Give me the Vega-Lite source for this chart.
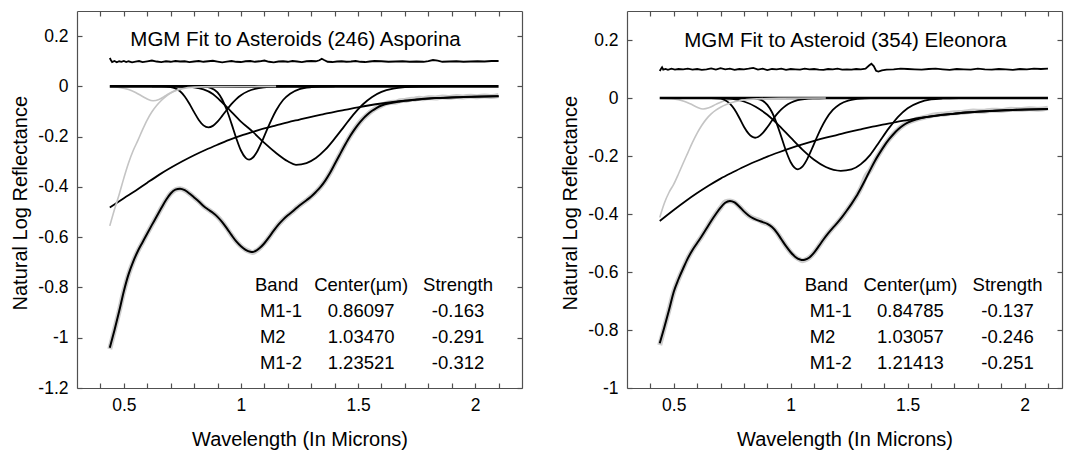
{
  "$schema": "https://vega.github.io/schema/vega-lite/v6.json",
  "padding": {"left": 10, "top": 10, "right": 5, "bottom": 5},
  "spacing": 37,
  "config": {
    "font": "Liberation Sans",
    "view": {"stroke": null},
    "axis": {"grid": false, "domainColor": "#505050", "domainWidth": 1.2, "tickColor": "#505050", "tickWidth": 1.2, "tickSize": -5, "labelFont": "Liberation Sans", "labelFontSize": 17.5, "labelColor": "#000000", "titleFont": "Liberation Sans", "titleFontSize": 20, "titleFontWeight": "normal", "titleColor": "#000000", "labelFlush": false, "labelOverlap": false},
    "text": {"font": "Liberation Sans", "color": "#000000"}
  },
  "datasets": {
    "L": [
      {"s":"fit","w":0.44,"r":-1.040},{"s":"fit","w":0.46,"r":-0.970},{"s":"fit","w":0.48,"r":-0.895},{"s":"fit","w":0.50,"r":-0.815},{"s":"fit","w":0.52,"r":-0.748},{"s":"fit","w":0.54,"r":-0.697},{"s":"fit","w":0.56,"r":-0.655},{"s":"fit","w":0.58,"r":-0.620},{"s":"fit","w":0.60,"r":-0.585},{"s":"fit","w":0.62,"r":-0.551},{"s":"fit","w":0.64,"r":-0.518},{"s":"fit","w":0.66,"r":-0.484},{"s":"fit","w":0.68,"r":-0.452},{"s":"fit","w":0.70,"r":-0.426},{"s":"fit","w":0.72,"r":-0.411},{"s":"fit","w":0.74,"r":-0.407},{"s":"fit","w":0.76,"r":-0.413},{"s":"fit","w":0.78,"r":-0.426},{"s":"fit","w":0.80,"r":-0.442},{"s":"fit","w":0.82,"r":-0.458},{"s":"fit","w":0.84,"r":-0.476},{"s":"fit","w":0.86,"r":-0.490},{"s":"fit","w":0.88,"r":-0.503},{"s":"fit","w":0.90,"r":-0.519},{"s":"fit","w":0.92,"r":-0.540},{"s":"fit","w":0.94,"r":-0.565},{"s":"fit","w":0.96,"r":-0.592},{"s":"fit","w":0.98,"r":-0.617},{"s":"fit","w":1.00,"r":-0.636},{"s":"fit","w":1.02,"r":-0.650},{"s":"fit","w":1.04,"r":-0.658},{"s":"fit","w":1.05,"r":-0.659},{"s":"fit","w":1.06,"r":-0.656},{"s":"fit","w":1.08,"r":-0.643},{"s":"fit","w":1.10,"r":-0.624},{"s":"fit","w":1.12,"r":-0.600},{"s":"fit","w":1.14,"r":-0.574},{"s":"fit","w":1.16,"r":-0.550},{"s":"fit","w":1.18,"r":-0.530},{"s":"fit","w":1.20,"r":-0.513},{"s":"fit","w":1.22,"r":-0.498},{"s":"fit","w":1.24,"r":-0.482},{"s":"fit","w":1.26,"r":-0.467},{"s":"fit","w":1.28,"r":-0.453},{"s":"fit","w":1.30,"r":-0.438},{"s":"fit","w":1.32,"r":-0.420},{"s":"fit","w":1.34,"r":-0.400},{"s":"fit","w":1.36,"r":-0.375},{"s":"fit","w":1.38,"r":-0.345},{"s":"fit","w":1.40,"r":-0.310},{"s":"fit","w":1.42,"r":-0.275},{"s":"fit","w":1.44,"r":-0.240},{"s":"fit","w":1.46,"r":-0.207},{"s":"fit","w":1.48,"r":-0.178},{"s":"fit","w":1.50,"r":-0.152},{"s":"fit","w":1.52,"r":-0.130},{"s":"fit","w":1.54,"r":-0.112},{"s":"fit","w":1.56,"r":-0.097},{"s":"fit","w":1.58,"r":-0.085},{"s":"fit","w":1.60,"r":-0.076},{"s":"fit","w":1.64,"r":-0.066},{"s":"fit","w":1.68,"r":-0.060},{"s":"fit","w":1.72,"r":-0.055},{"s":"fit","w":1.76,"r":-0.051},{"s":"fit","w":1.80,"r":-0.048},{"s":"fit","w":1.85,"r":-0.046},{"s":"fit","w":1.90,"r":-0.044},{"s":"fit","w":1.95,"r":-0.042},{"s":"fit","w":2.00,"r":-0.041},{"s":"fit","w":2.05,"r":-0.040},{"s":"fit","w":2.10,"r":-0.039},

      {"s":"data","w":0.44,"r":-1.045},{"s":"data","w":0.46,"r":-0.970},{"s":"data","w":0.48,"r":-0.895},{"s":"data","w":0.50,"r":-0.815},{"s":"data","w":0.52,"r":-0.748},{"s":"data","w":0.54,"r":-0.697},{"s":"data","w":0.56,"r":-0.655},{"s":"data","w":0.58,"r":-0.620},{"s":"data","w":0.60,"r":-0.585},{"s":"data","w":0.62,"r":-0.551},{"s":"data","w":0.64,"r":-0.518},{"s":"data","w":0.66,"r":-0.484},{"s":"data","w":0.68,"r":-0.452},{"s":"data","w":0.70,"r":-0.426},{"s":"data","w":0.72,"r":-0.411},{"s":"data","w":0.74,"r":-0.407},{"s":"data","w":0.76,"r":-0.413},{"s":"data","w":0.78,"r":-0.426},{"s":"data","w":0.80,"r":-0.442},{"s":"data","w":0.82,"r":-0.458},{"s":"data","w":0.84,"r":-0.476},{"s":"data","w":0.86,"r":-0.490},{"s":"data","w":0.88,"r":-0.503},{"s":"data","w":0.90,"r":-0.519},{"s":"data","w":0.92,"r":-0.540},{"s":"data","w":0.94,"r":-0.565},{"s":"data","w":0.96,"r":-0.592},{"s":"data","w":0.98,"r":-0.617},{"s":"data","w":1.00,"r":-0.636},{"s":"data","w":1.02,"r":-0.650},{"s":"data","w":1.04,"r":-0.658},{"s":"data","w":1.05,"r":-0.661},{"s":"data","w":1.06,"r":-0.657},{"s":"data","w":1.08,"r":-0.643},{"s":"data","w":1.10,"r":-0.624},{"s":"data","w":1.12,"r":-0.600},{"s":"data","w":1.14,"r":-0.574},{"s":"data","w":1.16,"r":-0.550},{"s":"data","w":1.18,"r":-0.530},{"s":"data","w":1.20,"r":-0.513},{"s":"data","w":1.22,"r":-0.498},{"s":"data","w":1.24,"r":-0.482},{"s":"data","w":1.26,"r":-0.467},{"s":"data","w":1.28,"r":-0.453},{"s":"data","w":1.30,"r":-0.438},{"s":"data","w":1.32,"r":-0.420},{"s":"data","w":1.34,"r":-0.400},{"s":"data","w":1.36,"r":-0.375},{"s":"data","w":1.38,"r":-0.345},{"s":"data","w":1.40,"r":-0.310},{"s":"data","w":1.42,"r":-0.275},{"s":"data","w":1.44,"r":-0.240},{"s":"data","w":1.46,"r":-0.207},{"s":"data","w":1.48,"r":-0.178},{"s":"data","w":1.50,"r":-0.152},{"s":"data","w":1.52,"r":-0.130},{"s":"data","w":1.54,"r":-0.112},{"s":"data","w":1.56,"r":-0.097},{"s":"data","w":1.58,"r":-0.085},{"s":"data","w":1.60,"r":-0.076},{"s":"data","w":1.62,"r":-0.068},{"s":"data","w":1.64,"r":-0.064},{"s":"data","w":1.66,"r":-0.063},{"s":"data","w":1.68,"r":-0.057},{"s":"data","w":1.70,"r":-0.056},{"s":"data","w":1.72,"r":-0.052},{"s":"data","w":1.74,"r":-0.051},{"s":"data","w":1.76,"r":-0.047},{"s":"data","w":1.78,"r":-0.049},{"s":"data","w":1.80,"r":-0.045},{"s":"data","w":1.83,"r":-0.046},{"s":"data","w":1.86,"r":-0.042},{"s":"data","w":1.89,"r":-0.044},{"s":"data","w":1.92,"r":-0.040},{"s":"data","w":1.95,"r":-0.042},{"s":"data","w":1.98,"r":-0.039},{"s":"data","w":2.01,"r":-0.041},{"s":"data","w":2.04,"r":-0.038},{"s":"data","w":2.07,"r":-0.040},{"s":"data","w":2.10,"r":-0.036},

      {"s":"cont","w":0.44,"r":-0.482},{"s":"cont","w":0.50,"r":-0.445},{"s":"cont","w":0.55,"r":-0.415},{"s":"cont","w":0.60,"r":-0.383},{"s":"cont","w":0.65,"r":-0.352},{"s":"cont","w":0.70,"r":-0.324},{"s":"cont","w":0.75,"r":-0.298},{"s":"cont","w":0.80,"r":-0.274},{"s":"cont","w":0.85,"r":-0.252},{"s":"cont","w":0.90,"r":-0.232},{"s":"cont","w":0.95,"r":-0.213},{"s":"cont","w":1.00,"r":-0.196},{"s":"cont","w":1.05,"r":-0.181},{"s":"cont","w":1.10,"r":-0.167},{"s":"cont","w":1.15,"r":-0.155},{"s":"cont","w":1.20,"r":-0.143},{"s":"cont","w":1.25,"r":-0.132},{"s":"cont","w":1.30,"r":-0.121},{"s":"cont","w":1.35,"r":-0.111},{"s":"cont","w":1.40,"r":-0.101},{"s":"cont","w":1.45,"r":-0.092},{"s":"cont","w":1.50,"r":-0.083},{"s":"cont","w":1.55,"r":-0.075},{"s":"cont","w":1.60,"r":-0.068},{"s":"cont","w":1.65,"r":-0.062},{"s":"cont","w":1.70,"r":-0.057},{"s":"cont","w":1.75,"r":-0.053},{"s":"cont","w":1.80,"r":-0.049},{"s":"cont","w":1.85,"r":-0.046},{"s":"cont","w":1.90,"r":-0.044},{"s":"cont","w":1.95,"r":-0.042},{"s":"cont","w":2.00,"r":-0.041},{"s":"cont","w":2.05,"r":-0.040},{"s":"cont","w":2.10,"r":-0.039},

      {"s":"zero","w":0.44,"r":0},{"s":"zero","w":2.10,"r":0},

      {"s":"uv","w":0.44,"r":-0.555},{"s":"uv","w":0.46,"r":-0.490},{"s":"uv","w":0.48,"r":-0.430},{"s":"uv","w":0.50,"r":-0.365},{"s":"uv","w":0.52,"r":-0.305},{"s":"uv","w":0.54,"r":-0.255},{"s":"uv","w":0.56,"r":-0.215},{"s":"uv","w":0.58,"r":-0.172},{"s":"uv","w":0.60,"r":-0.133},{"s":"uv","w":0.62,"r":-0.101},{"s":"uv","w":0.64,"r":-0.076},{"s":"uv","w":0.66,"r":-0.056},{"s":"uv","w":0.68,"r":-0.040},{"s":"uv","w":0.70,"r":-0.027},{"s":"uv","w":0.72,"r":-0.017},{"s":"uv","w":0.75,"r":-0.009},{"s":"uv","w":0.80,"r":-0.003},{"s":"uv","w":0.88,"r":-0.001},{"s":"uv","w":1.00,"r":-0.0003},{"s":"uv","w":1.15,"r":0},

      {"s":"g6","w":0.44,"r":-0.001},{"s":"g6","w":0.48,"r":-0.004},{"s":"g6","w":0.52,"r":-0.012},{"s":"g6","w":0.55,"r":-0.024},{"s":"g6","w":0.58,"r":-0.040},{"s":"g6","w":0.60,"r":-0.050},{"s":"g6","w":0.625,"r":-0.057},{"s":"g6","w":0.65,"r":-0.052},{"s":"g6","w":0.68,"r":-0.036},{"s":"g6","w":0.71,"r":-0.020},{"s":"g6","w":0.74,"r":-0.009},{"s":"g6","w":0.78,"r":-0.003},{"s":"g6","w":0.82,"r":-0.001},{"s":"g6","w":0.86,"r":0},

      {"s":"b1","w":0.62,"r":0},{"s":"b1","w":0.66,"r":-0.0001},{"s":"b1","w":0.70,"r":-0.0024},{"s":"b1","w":0.72,"r":-0.0077},{"s":"b1","w":0.74,"r":-0.0193},{"s":"b1","w":0.76,"r":-0.040},{"s":"b1","w":0.78,"r":-0.069},{"s":"b1","w":0.80,"r":-0.1025},{"s":"b1","w":0.82,"r":-0.1335},{"s":"b1","w":0.84,"r":-0.155},{"s":"b1","w":0.861,"r":-0.163},{"s":"b1","w":0.88,"r":-0.157},{"s":"b1","w":0.90,"r":-0.1404},{"s":"b1","w":0.92,"r":-0.1174},{"s":"b1","w":0.94,"r":-0.0928},{"s":"b1","w":0.96,"r":-0.0698},{"s":"b1","w":0.98,"r":-0.0503},{"s":"b1","w":1.00,"r":-0.0349},{"s":"b1","w":1.03,"r":-0.0191},{"s":"b1","w":1.06,"r":-0.0098},{"s":"b1","w":1.10,"r":-0.0038},{"s":"b1","w":1.15,"r":-0.0011},{"s":"b1","w":1.20,"r":-0.0003},{"s":"b1","w":1.30,"r":0},

      {"s":"b2","w":0.80,"r":0},{"s":"b2","w":0.84,"r":-0.0008},{"s":"b2","w":0.87,"r":-0.0055},{"s":"b2","w":0.90,"r":-0.024},{"s":"b2","w":0.92,"r":-0.052},{"s":"b2","w":0.94,"r":-0.095},{"s":"b2","w":0.96,"r":-0.149},{"s":"b2","w":0.98,"r":-0.206},{"s":"b2","w":1.00,"r":-0.255},{"s":"b2","w":1.02,"r":-0.284},{"s":"b2","w":1.0347,"r":-0.291},{"s":"b2","w":1.05,"r":-0.284},{"s":"b2","w":1.07,"r":-0.258},{"s":"b2","w":1.09,"r":-0.219},{"s":"b2","w":1.11,"r":-0.175},{"s":"b2","w":1.13,"r":-0.133},{"s":"b2","w":1.15,"r":-0.096},{"s":"b2","w":1.18,"r":-0.054},{"s":"b2","w":1.21,"r":-0.029},{"s":"b2","w":1.25,"r":-0.011},{"s":"b2","w":1.30,"r":-0.003},{"s":"b2","w":1.35,"r":-0.0007},{"s":"b2","w":1.40,"r":0},

      {"s":"b3","w":0.72,"r":0},{"s":"b3","w":0.76,"r":-0.001},{"s":"b3","w":0.80,"r":-0.004},{"s":"b3","w":0.84,"r":-0.012},{"s":"b3","w":0.88,"r":-0.030},{"s":"b3","w":0.91,"r":-0.055},{"s":"b3","w":0.95,"r":-0.092},{"s":"b3","w":1.00,"r":-0.140},{"s":"b3","w":1.05,"r":-0.180},{"s":"b3","w":1.10,"r":-0.225},{"s":"b3","w":1.15,"r":-0.265},{"s":"b3","w":1.20,"r":-0.298},{"s":"b3","w":1.235,"r":-0.312},{"s":"b3","w":1.28,"r":-0.305},{"s":"b3","w":1.32,"r":-0.285},{"s":"b3","w":1.36,"r":-0.252},{"s":"b3","w":1.40,"r":-0.208},{"s":"b3","w":1.44,"r":-0.160},{"s":"b3","w":1.48,"r":-0.112},{"s":"b3","w":1.52,"r":-0.072},{"s":"b3","w":1.56,"r":-0.042},{"s":"b3","w":1.60,"r":-0.022},{"s":"b3","w":1.65,"r":-0.009},{"s":"b3","w":1.70,"r":-0.003},{"s":"b3","w":1.76,"r":-0.0005},{"s":"b3","w":1.85,"r":0},

      {"s":"res","w":0.440,"r":0.113},{"s":"res","w":0.445,"r":0.104},{"s":"res","w":0.450,"r":0.097},{"s":"res","w":0.460,"r":0.101},{"s":"res","w":0.470,"r":0.096},{"s":"res","w":0.480,"r":0.100},{"s":"res","w":0.490,"r":0.098},{"s":"res","w":0.500,"r":0.101},{"s":"res","w":0.510,"r":0.097},{"s":"res","w":0.520,"r":0.100},{"s":"res","w":0.535,"r":0.096},{"s":"res","w":0.550,"r":0.099},{"s":"res","w":0.565,"r":0.101},{"s":"res","w":0.580,"r":0.097},{"s":"res","w":0.600,"r":0.100},{"s":"res","w":0.620,"r":0.103},{"s":"res","w":0.640,"r":0.099},{"s":"res","w":0.660,"r":0.097},{"s":"res","w":0.680,"r":0.100},{"s":"res","w":0.700,"r":0.098},{"s":"res","w":0.720,"r":0.101},{"s":"res","w":0.740,"r":0.099},{"s":"res","w":0.760,"r":0.100},{"s":"res","w":0.780,"r":0.097},{"s":"res","w":0.800,"r":0.099},{"s":"res","w":0.820,"r":0.101},{"s":"res","w":0.840,"r":0.098},{"s":"res","w":0.860,"r":0.100},{"s":"res","w":0.880,"r":0.102},{"s":"res","w":0.900,"r":0.099},{"s":"res","w":0.920,"r":0.096},{"s":"res","w":0.940,"r":0.099},{"s":"res","w":0.960,"r":0.101},{"s":"res","w":0.980,"r":0.098},{"s":"res","w":1.000,"r":0.097},{"s":"res","w":1.020,"r":0.100},{"s":"res","w":1.040,"r":0.101},{"s":"res","w":1.060,"r":0.098},{"s":"res","w":1.080,"r":0.100},{"s":"res","w":1.100,"r":0.103},{"s":"res","w":1.120,"r":0.098},{"s":"res","w":1.140,"r":0.096},{"s":"res","w":1.160,"r":0.099},{"s":"res","w":1.180,"r":0.100},{"s":"res","w":1.200,"r":0.098},{"s":"res","w":1.220,"r":0.101},{"s":"res","w":1.240,"r":0.099},{"s":"res","w":1.260,"r":0.097},{"s":"res","w":1.280,"r":0.100},{"s":"res","w":1.300,"r":0.101},{"s":"res","w":1.320,"r":0.100},{"s":"res","w":1.335,"r":0.104},{"s":"res","w":1.345,"r":0.110},{"s":"res","w":1.355,"r":0.105},{"s":"res","w":1.370,"r":0.098},{"s":"res","w":1.390,"r":0.097},{"s":"res","w":1.410,"r":0.099},{"s":"res","w":1.430,"r":0.100},{"s":"res","w":1.450,"r":0.098},{"s":"res","w":1.470,"r":0.099},{"s":"res","w":1.490,"r":0.101},{"s":"res","w":1.510,"r":0.098},{"s":"res","w":1.530,"r":0.097},{"s":"res","w":1.550,"r":0.099},{"s":"res","w":1.570,"r":0.101},{"s":"res","w":1.600,"r":0.100},{"s":"res","w":1.630,"r":0.098},{"s":"res","w":1.660,"r":0.099},{"s":"res","w":1.690,"r":0.100},{"s":"res","w":1.720,"r":0.098},{"s":"res","w":1.750,"r":0.099},{"s":"res","w":1.780,"r":0.098},{"s":"res","w":1.800,"r":0.101},{"s":"res","w":1.820,"r":0.105},{"s":"res","w":1.840,"r":0.103},{"s":"res","w":1.860,"r":0.098},{"s":"res","w":1.890,"r":0.099},{"s":"res","w":1.920,"r":0.100},{"s":"res","w":1.950,"r":0.098},{"s":"res","w":1.980,"r":0.099},{"s":"res","w":2.010,"r":0.100},{"s":"res","w":2.040,"r":0.099},{"s":"res","w":2.070,"r":0.101},{"s":"res","w":2.100,"r":0.101},

      {"s":"ttl","t":"MGM Fit to Asteroids (246) Asporina","w":1.233,"r":0.161},
      {"s":"lab","t":"Band","w":1.060,"r":-0.814},{"s":"lab","t":"M1-1","w":1.081,"r":-0.918},{"s":"lab","t":"M2","w":1.081,"r":-1.021},{"s":"lab","t":"M1-2","w":1.081,"r":-1.123},
      {"s":"ctr","t":"Center(µm)","w":1.513,"r":-0.814},{"s":"ctr","t":"Strength","w":1.927,"r":-0.814},
      {"s":"ctr","t":"0.86097","w":1.513,"r":-0.918},{"s":"ctr","t":"-0.163","w":1.927,"r":-0.918},
      {"s":"ctr","t":"1.03470","w":1.513,"r":-1.021},{"s":"ctr","t":"-0.291","w":1.927,"r":-1.021},
      {"s":"ctr","t":"1.23521","w":1.513,"r":-1.123},{"s":"ctr","t":"-0.312","w":1.927,"r":-1.123}
    ],
    "R": [
      {"s":"fit","w":0.44,"r":-0.846},{"s":"fit","w":0.46,"r":-0.790},{"s":"fit","w":0.48,"r":-0.730},{"s":"fit","w":0.50,"r":-0.668},{"s":"fit","w":0.52,"r":-0.625},{"s":"fit","w":0.54,"r":-0.588},{"s":"fit","w":0.56,"r":-0.553},{"s":"fit","w":0.58,"r":-0.524},{"s":"fit","w":0.60,"r":-0.500},{"s":"fit","w":0.62,"r":-0.476},{"s":"fit","w":0.64,"r":-0.450},{"s":"fit","w":0.66,"r":-0.424},{"s":"fit","w":0.68,"r":-0.400},{"s":"fit","w":0.70,"r":-0.378},{"s":"fit","w":0.72,"r":-0.361},{"s":"fit","w":0.74,"r":-0.355},{"s":"fit","w":0.76,"r":-0.360},{"s":"fit","w":0.78,"r":-0.374},{"s":"fit","w":0.80,"r":-0.391},{"s":"fit","w":0.82,"r":-0.405},{"s":"fit","w":0.84,"r":-0.415},{"s":"fit","w":0.86,"r":-0.422},{"s":"fit","w":0.88,"r":-0.428},{"s":"fit","w":0.90,"r":-0.434},{"s":"fit","w":0.92,"r":-0.445},{"s":"fit","w":0.94,"r":-0.463},{"s":"fit","w":0.96,"r":-0.487},{"s":"fit","w":0.98,"r":-0.511},{"s":"fit","w":1.00,"r":-0.532},{"s":"fit","w":1.02,"r":-0.548},{"s":"fit","w":1.04,"r":-0.557},{"s":"fit","w":1.05,"r":-0.559},{"s":"fit","w":1.06,"r":-0.558},{"s":"fit","w":1.08,"r":-0.550},{"s":"fit","w":1.10,"r":-0.533},{"s":"fit","w":1.12,"r":-0.511},{"s":"fit","w":1.14,"r":-0.488},{"s":"fit","w":1.16,"r":-0.467},{"s":"fit","w":1.18,"r":-0.448},{"s":"fit","w":1.20,"r":-0.430},{"s":"fit","w":1.22,"r":-0.410},{"s":"fit","w":1.24,"r":-0.388},{"s":"fit","w":1.26,"r":-0.365},{"s":"fit","w":1.28,"r":-0.340},{"s":"fit","w":1.30,"r":-0.311},{"s":"fit","w":1.32,"r":-0.280},{"s":"fit","w":1.34,"r":-0.248},{"s":"fit","w":1.36,"r":-0.217},{"s":"fit","w":1.38,"r":-0.190},{"s":"fit","w":1.40,"r":-0.165},{"s":"fit","w":1.42,"r":-0.143},{"s":"fit","w":1.44,"r":-0.124},{"s":"fit","w":1.46,"r":-0.108},{"s":"fit","w":1.48,"r":-0.095},{"s":"fit","w":1.50,"r":-0.085},{"s":"fit","w":1.54,"r":-0.073},{"s":"fit","w":1.58,"r":-0.066},{"s":"fit","w":1.62,"r":-0.061},{"s":"fit","w":1.66,"r":-0.057},{"s":"fit","w":1.70,"r":-0.054},{"s":"fit","w":1.75,"r":-0.050},{"s":"fit","w":1.80,"r":-0.047},{"s":"fit","w":1.85,"r":-0.045},{"s":"fit","w":1.90,"r":-0.043},{"s":"fit","w":1.95,"r":-0.041},{"s":"fit","w":2.00,"r":-0.040},{"s":"fit","w":2.05,"r":-0.039},{"s":"fit","w":2.10,"r":-0.038},

      {"s":"data","w":0.44,"r":-0.852},{"s":"data","w":0.46,"r":-0.790},{"s":"data","w":0.48,"r":-0.730},{"s":"data","w":0.50,"r":-0.668},{"s":"data","w":0.52,"r":-0.625},{"s":"data","w":0.54,"r":-0.588},{"s":"data","w":0.56,"r":-0.553},{"s":"data","w":0.58,"r":-0.524},{"s":"data","w":0.60,"r":-0.500},{"s":"data","w":0.62,"r":-0.476},{"s":"data","w":0.64,"r":-0.450},{"s":"data","w":0.66,"r":-0.424},{"s":"data","w":0.68,"r":-0.400},{"s":"data","w":0.70,"r":-0.378},{"s":"data","w":0.72,"r":-0.358},{"s":"data","w":0.74,"r":-0.355},{"s":"data","w":0.76,"r":-0.360},{"s":"data","w":0.78,"r":-0.374},{"s":"data","w":0.80,"r":-0.391},{"s":"data","w":0.82,"r":-0.405},{"s":"data","w":0.84,"r":-0.415},{"s":"data","w":0.86,"r":-0.420},{"s":"data","w":0.88,"r":-0.428},{"s":"data","w":0.90,"r":-0.434},{"s":"data","w":0.92,"r":-0.445},{"s":"data","w":0.94,"r":-0.463},{"s":"data","w":0.96,"r":-0.487},{"s":"data","w":0.98,"r":-0.511},{"s":"data","w":1.00,"r":-0.532},{"s":"data","w":1.02,"r":-0.548},{"s":"data","w":1.04,"r":-0.558},{"s":"data","w":1.05,"r":-0.561},{"s":"data","w":1.06,"r":-0.559},{"s":"data","w":1.08,"r":-0.550},{"s":"data","w":1.10,"r":-0.533},{"s":"data","w":1.12,"r":-0.511},{"s":"data","w":1.14,"r":-0.488},{"s":"data","w":1.16,"r":-0.467},{"s":"data","w":1.18,"r":-0.448},{"s":"data","w":1.20,"r":-0.430},{"s":"data","w":1.22,"r":-0.410},{"s":"data","w":1.24,"r":-0.388},{"s":"data","w":1.26,"r":-0.365},{"s":"data","w":1.28,"r":-0.340},{"s":"data","w":1.30,"r":-0.311},{"s":"data","w":1.32,"r":-0.272},{"s":"data","w":1.34,"r":-0.248},{"s":"data","w":1.36,"r":-0.217},{"s":"data","w":1.38,"r":-0.190},{"s":"data","w":1.40,"r":-0.165},{"s":"data","w":1.42,"r":-0.143},{"s":"data","w":1.44,"r":-0.124},{"s":"data","w":1.46,"r":-0.108},{"s":"data","w":1.48,"r":-0.095},{"s":"data","w":1.50,"r":-0.085},{"s":"data","w":1.54,"r":-0.073},{"s":"data","w":1.58,"r":-0.065},{"s":"data","w":1.62,"r":-0.058},{"s":"data","w":1.66,"r":-0.055},{"s":"data","w":1.70,"r":-0.051},{"s":"data","w":1.74,"r":-0.049},{"s":"data","w":1.78,"r":-0.045},{"s":"data","w":1.82,"r":-0.046},{"s":"data","w":1.86,"r":-0.042},{"s":"data","w":1.90,"r":-0.043},{"s":"data","w":1.94,"r":-0.039},{"s":"data","w":1.98,"r":-0.040},{"s":"data","w":2.02,"r":-0.037},{"s":"data","w":2.06,"r":-0.039},{"s":"data","w":2.10,"r":-0.035},

      {"s":"cont","w":0.44,"r":-0.424},{"s":"cont","w":0.50,"r":-0.386},{"s":"cont","w":0.55,"r":-0.356},{"s":"cont","w":0.60,"r":-0.328},{"s":"cont","w":0.65,"r":-0.302},{"s":"cont","w":0.70,"r":-0.278},{"s":"cont","w":0.75,"r":-0.257},{"s":"cont","w":0.80,"r":-0.237},{"s":"cont","w":0.85,"r":-0.219},{"s":"cont","w":0.90,"r":-0.202},{"s":"cont","w":0.95,"r":-0.187},{"s":"cont","w":1.00,"r":-0.173},{"s":"cont","w":1.05,"r":-0.160},{"s":"cont","w":1.10,"r":-0.148},{"s":"cont","w":1.15,"r":-0.137},{"s":"cont","w":1.20,"r":-0.127},{"s":"cont","w":1.25,"r":-0.117},{"s":"cont","w":1.30,"r":-0.108},{"s":"cont","w":1.35,"r":-0.099},{"s":"cont","w":1.40,"r":-0.091},{"s":"cont","w":1.45,"r":-0.083},{"s":"cont","w":1.50,"r":-0.076},{"s":"cont","w":1.55,"r":-0.069},{"s":"cont","w":1.60,"r":-0.063},{"s":"cont","w":1.65,"r":-0.058},{"s":"cont","w":1.70,"r":-0.054},{"s":"cont","w":1.75,"r":-0.050},{"s":"cont","w":1.80,"r":-0.047},{"s":"cont","w":1.85,"r":-0.045},{"s":"cont","w":1.90,"r":-0.043},{"s":"cont","w":1.95,"r":-0.041},{"s":"cont","w":2.00,"r":-0.040},{"s":"cont","w":2.05,"r":-0.039},{"s":"cont","w":2.10,"r":-0.038},

      {"s":"zero","w":0.44,"r":0},{"s":"zero","w":2.10,"r":0},

      {"s":"uv","w":0.44,"r":-0.412},{"s":"uv","w":0.46,"r":-0.362},{"s":"uv","w":0.48,"r":-0.325},{"s":"uv","w":0.50,"r":-0.297},{"s":"uv","w":0.52,"r":-0.262},{"s":"uv","w":0.54,"r":-0.225},{"s":"uv","w":0.56,"r":-0.189},{"s":"uv","w":0.58,"r":-0.153},{"s":"uv","w":0.60,"r":-0.121},{"s":"uv","w":0.62,"r":-0.094},{"s":"uv","w":0.64,"r":-0.072},{"s":"uv","w":0.66,"r":-0.055},{"s":"uv","w":0.68,"r":-0.042},{"s":"uv","w":0.70,"r":-0.032},{"s":"uv","w":0.73,"r":-0.021},{"s":"uv","w":0.76,"r":-0.013},{"s":"uv","w":0.80,"r":-0.007},{"s":"uv","w":0.86,"r":-0.003},{"s":"uv","w":0.95,"r":-0.001},{"s":"uv","w":1.15,"r":0},

      {"s":"g6","w":0.44,"r":-0.0005},{"s":"g6","w":0.50,"r":-0.003},{"s":"g6","w":0.54,"r":-0.010},{"s":"g6","w":0.57,"r":-0.020},{"s":"g6","w":0.60,"r":-0.032},{"s":"g6","w":0.625,"r":-0.038},{"s":"g6","w":0.65,"r":-0.034},{"s":"g6","w":0.68,"r":-0.022},{"s":"g6","w":0.71,"r":-0.011},{"s":"g6","w":0.75,"r":-0.004},{"s":"g6","w":0.80,"r":-0.001},{"s":"g6","w":0.85,"r":0},

      {"s":"b1","w":0.62,"r":0},{"s":"b1","w":0.66,"r":-0.0001},{"s":"b1","w":0.70,"r":-0.0023},{"s":"b1","w":0.72,"r":-0.0076},{"s":"b1","w":0.74,"r":-0.0195},{"s":"b1","w":0.76,"r":-0.040},{"s":"b1","w":0.78,"r":-0.068},{"s":"b1","w":0.80,"r":-0.099},{"s":"b1","w":0.82,"r":-0.123},{"s":"b1","w":0.848,"r":-0.137},{"s":"b1","w":0.86,"r":-0.1345},{"s":"b1","w":0.88,"r":-0.121},{"s":"b1","w":0.90,"r":-0.1007},{"s":"b1","w":0.92,"r":-0.0779},{"s":"b1","w":0.94,"r":-0.0567},{"s":"b1","w":0.96,"r":-0.0391},{"s":"b1","w":0.98,"r":-0.0258},{"s":"b1","w":1.00,"r":-0.0163},{"s":"b1","w":1.03,"r":-0.0077},{"s":"b1","w":1.06,"r":-0.0035},{"s":"b1","w":1.10,"r":-0.0011},{"s":"b1","w":1.15,"r":0},

      {"s":"b2","w":0.80,"r":0},{"s":"b2","w":0.84,"r":-0.0008},{"s":"b2","w":0.87,"r":-0.0055},{"s":"b2","w":0.90,"r":-0.0235},{"s":"b2","w":0.92,"r":-0.0491},{"s":"b2","w":0.94,"r":-0.0875},{"s":"b2","w":0.96,"r":-0.1346},{"s":"b2","w":0.98,"r":-0.1828},{"s":"b2","w":1.00,"r":-0.2216},{"s":"b2","w":1.0306,"r":-0.246},{"s":"b2","w":1.05,"r":-0.2368},{"s":"b2","w":1.07,"r":-0.2115},{"s":"b2","w":1.09,"r":-0.1767},{"s":"b2","w":1.11,"r":-0.139},{"s":"b2","w":1.13,"r":-0.1038},{"s":"b2","w":1.15,"r":-0.074},{"s":"b2","w":1.18,"r":-0.0413},{"s":"b2","w":1.21,"r":-0.0212},{"s":"b2","w":1.25,"r":-0.008},{"s":"b2","w":1.30,"r":-0.002},{"s":"b2","w":1.35,"r":-0.0005},{"s":"b2","w":1.40,"r":0},

      {"s":"b3","w":0.70,"r":-0.0005},{"s":"b3","w":0.75,"r":-0.003},{"s":"b3","w":0.80,"r":-0.012},{"s":"b3","w":0.85,"r":-0.030},{"s":"b3","w":0.90,"r":-0.058},{"s":"b3","w":0.95,"r":-0.095},{"s":"b3","w":1.00,"r":-0.137},{"s":"b3","w":1.05,"r":-0.178},{"s":"b3","w":1.10,"r":-0.213},{"s":"b3","w":1.15,"r":-0.238},{"s":"b3","w":1.214,"r":-0.251},{"s":"b3","w":1.26,"r":-0.246},{"s":"b3","w":1.30,"r":-0.228},{"s":"b3","w":1.34,"r":-0.196},{"s":"b3","w":1.38,"r":-0.150},{"s":"b3","w":1.42,"r":-0.104},{"s":"b3","w":1.46,"r":-0.064},{"s":"b3","w":1.50,"r":-0.035},{"s":"b3","w":1.55,"r":-0.015},{"s":"b3","w":1.60,"r":-0.005},{"s":"b3","w":1.65,"r":-0.0015},{"s":"b3","w":1.72,"r":0},

      {"s":"res","w":0.440,"r":0.093},{"s":"res","w":0.445,"r":0.100},{"s":"res","w":0.450,"r":0.106},{"s":"res","w":0.455,"r":0.098},{"s":"res","w":0.465,"r":0.100},{"s":"res","w":0.475,"r":0.097},{"s":"res","w":0.490,"r":0.101},{"s":"res","w":0.505,"r":0.098},{"s":"res","w":0.520,"r":0.100},{"s":"res","w":0.540,"r":0.099},{"s":"res","w":0.560,"r":0.101},{"s":"res","w":0.580,"r":0.098},{"s":"res","w":0.600,"r":0.100},{"s":"res","w":0.620,"r":0.097},{"s":"res","w":0.640,"r":0.099},{"s":"res","w":0.660,"r":0.102},{"s":"res","w":0.680,"r":0.098},{"s":"res","w":0.700,"r":0.103},{"s":"res","w":0.720,"r":0.099},{"s":"res","w":0.740,"r":0.101},{"s":"res","w":0.760,"r":0.097},{"s":"res","w":0.780,"r":0.100},{"s":"res","w":0.800,"r":0.099},{"s":"res","w":0.820,"r":0.101},{"s":"res","w":0.840,"r":0.104},{"s":"res","w":0.860,"r":0.098},{"s":"res","w":0.880,"r":0.101},{"s":"res","w":0.900,"r":0.096},{"s":"res","w":0.920,"r":0.100},{"s":"res","w":0.940,"r":0.099},{"s":"res","w":0.960,"r":0.101},{"s":"res","w":0.980,"r":0.097},{"s":"res","w":1.000,"r":0.100},{"s":"res","w":1.020,"r":0.099},{"s":"res","w":1.040,"r":0.098},{"s":"res","w":1.060,"r":0.101},{"s":"res","w":1.080,"r":0.099},{"s":"res","w":1.100,"r":0.100},{"s":"res","w":1.120,"r":0.098},{"s":"res","w":1.140,"r":0.097},{"s":"res","w":1.160,"r":0.100},{"s":"res","w":1.180,"r":0.099},{"s":"res","w":1.200,"r":0.101},{"s":"res","w":1.220,"r":0.098},{"s":"res","w":1.240,"r":0.099},{"s":"res","w":1.260,"r":0.098},{"s":"res","w":1.280,"r":0.100},{"s":"res","w":1.300,"r":0.099},{"s":"res","w":1.320,"r":0.101},{"s":"res","w":1.335,"r":0.112},{"s":"res","w":1.345,"r":0.118},{"s":"res","w":1.355,"r":0.110},{"s":"res","w":1.365,"r":0.094},{"s":"res","w":1.375,"r":0.091},{"s":"res","w":1.390,"r":0.095},{"s":"res","w":1.410,"r":0.098},{"s":"res","w":1.440,"r":0.099},{"s":"res","w":1.470,"r":0.101},{"s":"res","w":1.500,"r":0.100},{"s":"res","w":1.530,"r":0.099},{"s":"res","w":1.560,"r":0.098},{"s":"res","w":1.590,"r":0.100},{"s":"res","w":1.620,"r":0.101},{"s":"res","w":1.650,"r":0.099},{"s":"res","w":1.680,"r":0.097},{"s":"res","w":1.710,"r":0.100},{"s":"res","w":1.740,"r":0.099},{"s":"res","w":1.770,"r":0.098},{"s":"res","w":1.800,"r":0.101},{"s":"res","w":1.830,"r":0.099},{"s":"res","w":1.860,"r":0.098},{"s":"res","w":1.890,"r":0.100},{"s":"res","w":1.920,"r":0.099},{"s":"res","w":1.950,"r":0.097},{"s":"res","w":1.980,"r":0.100},{"s":"res","w":2.010,"r":0.099},{"s":"res","w":2.040,"r":0.101},{"s":"res","w":2.070,"r":0.100},{"s":"res","w":2.100,"r":0.101},

      {"s":"ttl","t":"MGM Fit to Asteroid (354) Eleonora","w":1.234,"r":0.177},
      {"s":"lab","t":"Band","w":1.060,"r":-0.666},{"s":"lab","t":"M1-1","w":1.081,"r":-0.755},{"s":"lab","t":"M2","w":1.081,"r":-0.845},{"s":"lab","t":"M1-2","w":1.081,"r":-0.934},
      {"s":"ctr","t":"Center(µm)","w":1.512,"r":-0.666},{"s":"ctr","t":"Strength","w":1.927,"r":-0.666},
      {"s":"ctr","t":"0.84785","w":1.512,"r":-0.755},{"s":"ctr","t":"-0.137","w":1.927,"r":-0.755},
      {"s":"ctr","t":"1.03057","w":1.512,"r":-0.845},{"s":"ctr","t":"-0.246","w":1.927,"r":-0.845},
      {"s":"ctr","t":"1.21413","w":1.512,"r":-0.934},{"s":"ctr","t":"-0.251","w":1.927,"r":-0.934}
    ]
  },
  "hconcat": [
    {
      "width": 445,
      "height": 377,
      "data": {"name": "L"},
      "encoding": {
        "x": {"field": "w", "type": "quantitative", "scale": {"domain": [0.3, 2.2], "nice": false, "zero": false}, "axis": null},
        "y": {"field": "r", "type": "quantitative", "scale": {"domain": [-1.2, 0.3], "nice": false, "zero": false}, "axis": null}
      },
      "layer": [
        {"transform": [{"filter": {"field": "s", "equal": "data"}}],
         "mark": {"type": "line", "color": "#cdcdcd", "strokeWidth": 5, "interpolate": "monotone"},
         "encoding": {
           "x": {"field": "w", "type": "quantitative", "scale": {"domain": [0.3, 2.2], "nice": false, "zero": false},
                 "axis": {"orient": "bottom", "values": [0.4,0.5,0.6,0.7,0.8,0.9,1,1.1,1.2,1.3,1.4,1.5,1.6,1.7,1.8,1.9,2,2.1], "labelExpr": "abs(datum.value*2-round(datum.value*2))<0.01 ? format(datum.value,'~g') : ''", "labelPadding": 13.7, "title": "Wavelength (In Microns)", "titleY": 57, "titleBaseline": "alphabetic"}},
           "y": {"field": "r", "type": "quantitative", "scale": {"domain": [-1.2, 0.3], "nice": false, "zero": false},
                 "axis": {"orient": "left", "values": [-1.2,-1,-0.8,-0.6,-0.4,-0.2,0,0.2], "format": "~g", "labelExpr": "replace(datum.label,'\u2212','-')", "labelPadding": 14, "title": "Natural Log Reflectance", "titleX": -51, "titleY": 191.7, "titleBaseline": "alphabetic", "titleAngle": 270}}
         }},
        {"transform": [{"filter": {"field": "s", "equal": "g6"}}],
         "mark": {"type": "line", "color": "#c4c4c4", "strokeWidth": 1.6, "interpolate": "monotone"},
         "encoding": {
           "x": {"field": "w", "type": "quantitative", "scale": {"domain": [0.3, 2.2], "nice": false, "zero": false},
                 "axis": {"orient": "top", "values": [0.4,0.5,0.6,0.7,0.8,0.9,1,1.1,1.2,1.3,1.4,1.5,1.6,1.7,1.8,1.9,2,2.1], "labels": false, "title": null}},
           "y": {"field": "r", "type": "quantitative", "scale": {"domain": [-1.2, 0.3], "nice": false, "zero": false},
                 "axis": {"orient": "right", "values": [-1.2,-1,-0.8,-0.6,-0.4,-0.2,0,0.2], "labels": false, "title": null}}
         }},
        {"transform": [{"filter": {"field": "s", "equal": "zero"}}],
         "mark": {"type": "line", "color": "#000000", "strokeWidth": 2.6}},
        {"transform": [{"filter": {"field": "s", "oneOf": ["b1", "b2", "b3"]}}],
         "mark": {"type": "line", "color": "#000000", "strokeWidth": 1.8, "interpolate": "monotone"},
         "encoding": {"detail": {"field": "s"}}},
        {"transform": [{"filter": {"field": "s", "equal": "cont"}}],
         "mark": {"type": "line", "color": "#000000", "strokeWidth": 1.8, "interpolate": "monotone"}},
        {"transform": [{"filter": {"field": "s", "equal": "fit"}}],
         "mark": {"type": "line", "color": "#000000", "strokeWidth": 2, "interpolate": "monotone"}},
        {"transform": [{"filter": {"field": "s", "equal": "res"}}],
         "mark": {"type": "line", "color": "#000000", "strokeWidth": 1.8}},
        {"transform": [{"filter": {"field": "s", "equal": "uv"}}],
         "mark": {"type": "line", "color": "#c4c4c4", "strokeWidth": 1.6, "interpolate": "monotone"}},
        {"transform": [{"filter": {"field": "s", "equal": "ttl"}}],
         "mark": {"type": "text", "align": "center", "baseline": "alphabetic", "fontSize": 20.5},
         "encoding": {"text": {"field": "t"}}},
        {"transform": [{"filter": {"field": "s", "equal": "lab"}}],
         "mark": {"type": "text", "align": "left", "baseline": "alphabetic", "fontSize": 18.5},
         "encoding": {"text": {"field": "t"}}},
        {"transform": [{"filter": {"field": "s", "equal": "ctr"}}],
         "mark": {"type": "text", "align": "center", "baseline": "alphabetic", "fontSize": 18.5},
         "encoding": {"text": {"field": "t"}}}
      ],
      "resolve": {"axis": {"x": "independent", "y": "independent"}}
    },
    {
      "width": 435,
      "height": 377,
      "data": {"name": "R"},
      "encoding": {
        "x": {"field": "w", "type": "quantitative", "scale": {"domain": [0.3, 2.16], "nice": false, "zero": false}, "axis": null},
        "y": {"field": "r", "type": "quantitative", "scale": {"domain": [-1, 0.3], "nice": false, "zero": false}, "axis": null}
      },
      "layer": [
        {"transform": [{"filter": {"field": "s", "equal": "data"}}],
         "mark": {"type": "line", "color": "#cdcdcd", "strokeWidth": 5, "interpolate": "monotone"},
         "encoding": {
           "x": {"field": "w", "type": "quantitative", "scale": {"domain": [0.3, 2.16], "nice": false, "zero": false},
                 "axis": {"orient": "bottom", "values": [0.4,0.5,0.6,0.7,0.8,0.9,1,1.1,1.2,1.3,1.4,1.5,1.6,1.7,1.8,1.9,2,2.1], "labelExpr": "abs(datum.value*2-round(datum.value*2))<0.01 ? format(datum.value,'~g') : ''", "labelPadding": 13.7, "title": "Wavelength (In Microns)", "titleY": 57, "titleBaseline": "alphabetic"}},
           "y": {"field": "r", "type": "quantitative", "scale": {"domain": [-1, 0.3], "nice": false, "zero": false},
                 "axis": {"orient": "left", "values": [-1,-0.8,-0.6,-0.4,-0.2,0,0.2], "format": "~g", "labelExpr": "replace(datum.label,'\u2212','-')", "labelPadding": 14, "title": "Natural Log Reflectance", "titleX": -51, "titleY": 191.7, "titleBaseline": "alphabetic", "titleAngle": 270}}
         }},
        {"transform": [{"filter": {"field": "s", "equal": "g6"}}],
         "mark": {"type": "line", "color": "#c4c4c4", "strokeWidth": 1.6, "interpolate": "monotone"},
         "encoding": {
           "x": {"field": "w", "type": "quantitative", "scale": {"domain": [0.3, 2.16], "nice": false, "zero": false},
                 "axis": {"orient": "top", "values": [0.4,0.5,0.6,0.7,0.8,0.9,1,1.1,1.2,1.3,1.4,1.5,1.6,1.7,1.8,1.9,2,2.1], "labels": false, "title": null}},
           "y": {"field": "r", "type": "quantitative", "scale": {"domain": [-1, 0.3], "nice": false, "zero": false},
                 "axis": {"orient": "right", "values": [-1,-0.8,-0.6,-0.4,-0.2,0,0.2], "labels": false, "title": null}}
         }},
        {"transform": [{"filter": {"field": "s", "equal": "zero"}}],
         "mark": {"type": "line", "color": "#000000", "strokeWidth": 2.6}},
        {"transform": [{"filter": {"field": "s", "oneOf": ["b1", "b2", "b3"]}}],
         "mark": {"type": "line", "color": "#000000", "strokeWidth": 1.8, "interpolate": "monotone"},
         "encoding": {"detail": {"field": "s"}}},
        {"transform": [{"filter": {"field": "s", "equal": "cont"}}],
         "mark": {"type": "line", "color": "#000000", "strokeWidth": 1.8, "interpolate": "monotone"}},
        {"transform": [{"filter": {"field": "s", "equal": "fit"}}],
         "mark": {"type": "line", "color": "#000000", "strokeWidth": 2, "interpolate": "monotone"}},
        {"transform": [{"filter": {"field": "s", "equal": "res"}}],
         "mark": {"type": "line", "color": "#000000", "strokeWidth": 1.8}},
        {"transform": [{"filter": {"field": "s", "equal": "uv"}}],
         "mark": {"type": "line", "color": "#c4c4c4", "strokeWidth": 1.6, "interpolate": "monotone"}},
        {"transform": [{"filter": {"field": "s", "equal": "ttl"}}],
         "mark": {"type": "text", "align": "center", "baseline": "alphabetic", "fontSize": 20.5},
         "encoding": {"text": {"field": "t"}}},
        {"transform": [{"filter": {"field": "s", "equal": "lab"}}],
         "mark": {"type": "text", "align": "left", "baseline": "alphabetic", "fontSize": 18.5},
         "encoding": {"text": {"field": "t"}}},
        {"transform": [{"filter": {"field": "s", "equal": "ctr"}}],
         "mark": {"type": "text", "align": "center", "baseline": "alphabetic", "fontSize": 18.5},
         "encoding": {"text": {"field": "t"}}}
      ],
      "resolve": {"axis": {"x": "independent", "y": "independent"}}
    }
  ]
}
